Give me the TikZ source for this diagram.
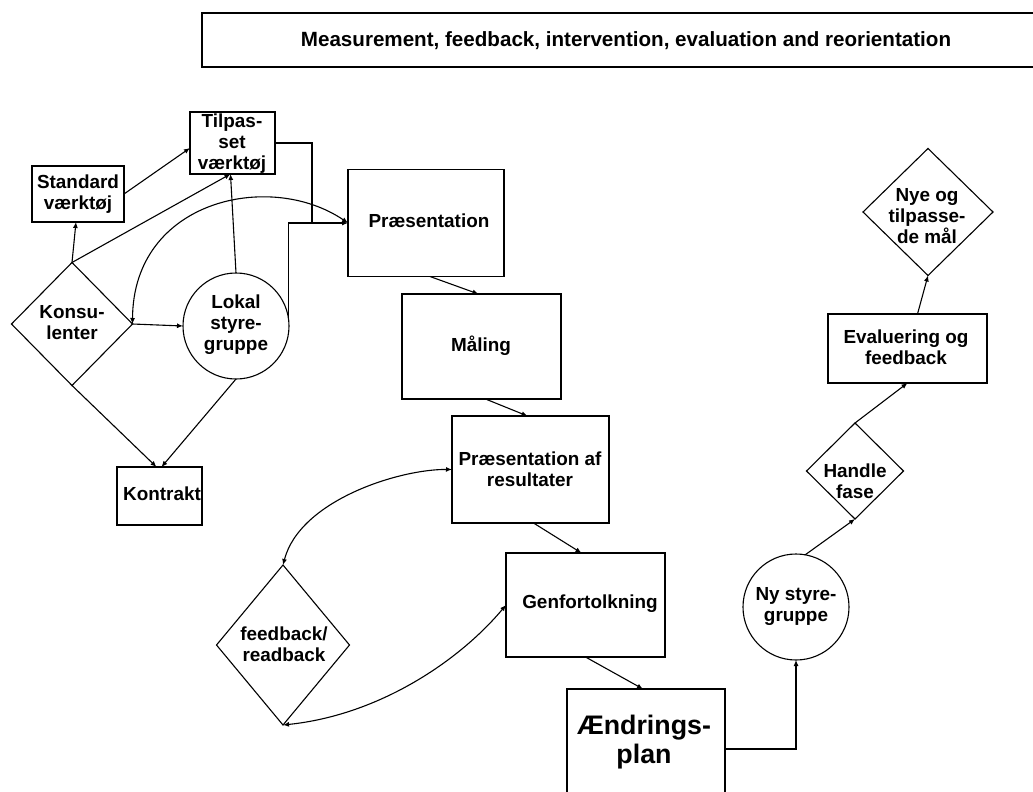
\documentclass[tikz,border=0pt]{standalone}
\usepackage{fontspec}
\setmainfont{Liberation Sans}
\usetikzlibrary{shapes.geometric,arrows.meta}

\begin{document}
\begin{tikzpicture}[x=1pt,y=-1pt,
  every node/.style={inner sep=0pt,outer sep=0pt},
  shp/.style={draw=black,line width=1.1pt},
  rbox/.style={shp,rectangle},
  dia/.style={shp,diamond},
  circ/.style={shp,circle,minimum size=106pt},
  lbl/.style={font=\bfseries\fontsize{18.9}{21}\selectfont,align=center},
  headlbl/.style={font=\bfseries\fontsize{20.6}{22}\selectfont,align=center},
  biglbl/.style={font=\bfseries\fontsize{26.8}{29}\selectfont,align=center},
  tip/.tip={Latex[length=6pt,width=5pt]},
  con/.style={line width=1.1pt,-tip},
  dcon/.style={line width=1.1pt,tip-tip},
]
\useasboundingbox (0,0) rectangle (1033,792);
\clip (0,0) rectangle (1033,792);
\fill[white] (0,0) rectangle (1033,792);

% heading
\node[rbox,minimum width=848pt,minimum height=54pt] (title) at (626,40) {};
\node[headlbl] (title-t) at (626,41) {Measurement, feedback, intervention, evaluation and reorientation};

% start-up cluster
\node[rbox,minimum width=92pt,minimum height=56pt] (std) at (78,194) {};
\node[lbl] (std-t) at (78,194) {Standard\\værktøj};
\node[rbox,minimum width=85pt,minimum height=62pt] (tilp) at (232.5,143) {};
\node[lbl] (tilp-t) at (232,144) {Tilpas-\\set\\værktøj};
\node[dia,minimum width=121pt,minimum height=123pt] (kons) at (72,324) {};
\node[lbl] (kons-t) at (72,323) {Konsu-\\lenter};
\node[circ] (lok) at (236,326) {};
\node[lbl] (lok-t) at (236,325) {Lokal\\styre-\\gruppe};
\node[rbox,minimum width=85pt,minimum height=58pt] (kon) at (159.5,496) {};
\node[lbl] (kon-t) at (162,494) {Kontrakt};

% main process chain
\node[rbox,minimum width=156pt,minimum height=107pt] (pres) at (426,223) {};
\node[lbl] (pres-t) at (429,221) {Præsentation};
\node[rbox,minimum width=159pt,minimum height=105pt] (mal) at (481.5,346.5) {};
\node[lbl] (mal-t) at (481,346) {Måling};
\node[rbox,minimum width=157pt,minimum height=107pt] (par) at (530.5,469.5) {};
\node[lbl] (par-t) at (530,469) {Præsentation af\\resultater};
\node[dia,minimum width=133pt,minimum height=160pt] (fb) at (283,645) {};
\node[lbl] (fb-t) at (284,644) {feedback/\\readback};
\node[rbox,minimum width=159pt,minimum height=104pt] (gen) at (585.5,605) {};
\node[lbl] (gen-t) at (590,604) {Genfortolkning};
\node[rbox,minimum width=158pt,minimum height=116pt] (aen) at (646,747) {};
\node[biglbl] (aen-t) at (644,742) {Ændrings-\\plan};

% follow-up chain
\node[circ] (ny) at (796,607) {};
\node[lbl] (ny-t) at (796,606) {Ny styre-\\gruppe};
\node[dia,minimum width=97pt,minimum height=96pt] (hf) at (855,471) {};
\node[lbl] (hf-t) at (855,481) {Handle\\fase};
\node[rbox,minimum width=159pt,minimum height=69pt] (ev) at (907.5,348.5) {};
\node[lbl] (ev-t) at (906,347) {Evaluering og\\feedback};
\node[dia,minimum width=130pt,minimum height=127pt] (nye) at (928,212) {};
\node[lbl] (nye-t) at (927,216) {Nye og\\tilpasse-\\de mål};

% junction in front of Præsentation
\coordinate (j1) at (312,223);

% connectors of the start-up cluster
\draw[con] (kons.north) -- ([xshift=-2pt]std.south);
\draw[con] (std.east) -- ([yshift=-5pt]tilp.west);
\draw[con] (kons.north) -- ([xshift=-2pt]tilp.south);
\draw[con] (lok.north) -- ([xshift=-2pt]tilp.south);
\draw[dcon] (kons.east) .. controls (133,200) and (270,170) .. (pres.west);
\draw[line width=1.1pt] (tilp.east) -| (j1);
\draw[con] (lok.8) |- (j1) -- (pres.west);
\draw[con] (kons.east) -- (lok.west);
\draw[con] (kons.south) -- ([xshift=-3pt]kon.north);
\draw[con] (lok.south) -- ([xshift=2pt]kon.north);

% main chain
\draw[con] ([xshift=4pt]pres.south) -- ([xshift=-3pt]mal.north);
\draw[con] ([xshift=4pt]mal.south) -- ([xshift=-3pt]par.north);
\draw[con] ([xshift=3pt]par.south) -- ([xshift=-4pt]gen.north);
\draw[con] (gen.south) -- ([xshift=-3pt]aen.north);
\draw[dcon] (par.west) .. controls (400,469) and (300,500) .. (fb.north);
\draw[dcon] (fb.south) .. controls (380,715) and (460,660) .. (gen.west);

% follow-up chain
\draw[con] ([yshift=-2pt]aen.east) -| (ny.south);
\draw[con] (ny.80) -- (hf.south);
\draw[con] (hf.north) -- (ev.south);
\draw[con] ([xshift=10pt]ev.north) -- (nye.south);
\end{tikzpicture}
\end{document}
